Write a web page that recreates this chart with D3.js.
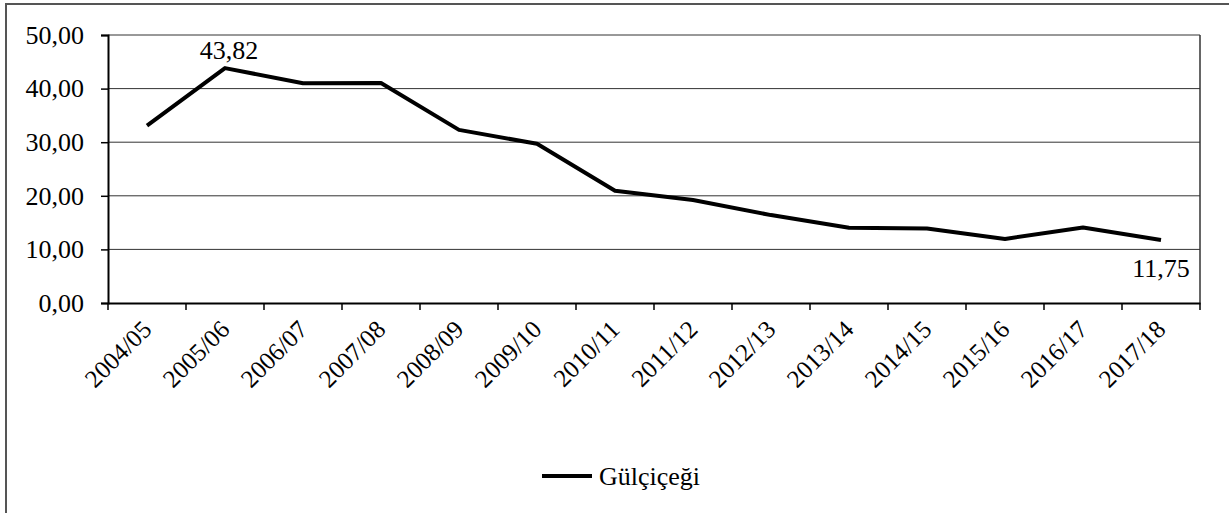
<!DOCTYPE html>
<html>
<head>
<meta charset="utf-8">
<script src="https://cdn.jsdelivr.net/npm/d3@7"></script>
<style>
  body { margin: 0; background: #fff; }
  svg text { font-family: "Liberation Serif", "Times New Roman", serif; fill: #000; }
</style>
</head>
<body>
<div id="chart"></div>
<script>
// data
var seasons = ["2004/05", "2005/06", "2006/07", "2007/08", "2008/09", "2009/10", "2010/11",
               "2011/12", "2012/13", "2013/14", "2014/15", "2015/16", "2016/17", "2017/18"];
var gulcicegi = [33.1, 43.82, 41.0, 41.05, 32.3, 29.7, 20.95, 19.2, 16.4, 14.05, 13.9, 11.95, 14.1, 11.75];
var yTicks = [0, 10, 20, 30, 40, 50];
var seriesName = "Gülçiçeği";

// chart properties
var W = 1229, H = 513;
var margin = { top: 35, right: 29, bottom: 210, left: 108 },
    width = W - margin.left - margin.right,
    height = H - margin.top - margin.bottom;

var serif = "'Liberation Serif', 'Times New Roman', serif";
var fmt = function (v) { return d3.format(".2f")(v).replace(".", ","); };

var svg = d3.select("#chart").append("svg")
            .attr("width", W)
            .attr("height", H)
            .attr("font-family", serif);

// outer frame
svg.append("rect")
   .attr("x", 6).attr("y", 4)
   .attr("width", W + 10).attr("height", H + 10)
   .attr("fill", "none")
   .attr("stroke", "#555")
   .attr("stroke-width", 2);

var chart = svg.append("g")
               .attr("transform", "translate(" + margin.left + "," + margin.top + ")");

var xScale = d3.scaleBand()
               .domain(seasons)
               .range([0, width]);

var yScale = d3.scaleLinear()
               .domain([0, 50])
               .range([height, 0]);

// gridlines
chart.append("g")
     .selectAll("line")
     .data(yTicks.filter(function (d) { return d > 0; }))
     .enter().append("line")
     .attr("x1", 0).attr("x2", width)
     .attr("y1", function (d) { return yScale(d); })
     .attr("y2", function (d) { return yScale(d); })
     .attr("stroke", "#333")
     .attr("stroke-width", 1);

// right border of plot
chart.append("line")
     .attr("x1", width).attr("x2", width)
     .attr("y1", 0).attr("y2", height)
     .attr("stroke", "#333")
     .attr("stroke-width", 1.5);

// x axis
var xAxis = chart.append("g")
                 .attr("transform", "translate(0," + height + ")")
                 .call(d3.axisBottom(xScale).tickSize(0).tickFormat(""));
xAxis.select(".domain").attr("stroke", "#000").attr("stroke-width", 2);

// x ticks at band boundaries
var bounds = seasons.map(function (d) { return xScale(d); }).concat([width]);
chart.append("g")
     .selectAll("line")
     .data(bounds)
     .enter().append("line")
     .attr("x1", function (d) { return d; })
     .attr("x2", function (d) { return d; })
     .attr("y1", height).attr("y2", height + 7)
     .attr("stroke", "#000")
     .attr("stroke-width", 1.5);

// x labels
chart.append("g")
     .selectAll("text")
     .data(seasons)
     .enter().append("text")
     .attr("transform", function (d) {
         return "translate(" + (xScale(d) + xScale.bandwidth() / 2 + 6) + "," + (height + 28) + ") rotate(-45)";
     })
     .attr("text-anchor", "end")
     .style("font-family", serif)
     .style("font-size", "25px")
     .text(function (d) { return d; });

// y axis
var yAxis = chart.append("g")
                 .call(d3.axisLeft(yScale).tickValues(yTicks).tickSize(7).tickPadding(17).tickFormat(fmt));
yAxis.attr("font-family", serif);
yAxis.select(".domain").attr("stroke", "#000").attr("stroke-width", 2);
yAxis.selectAll(".tick line").attr("stroke", "#000").attr("stroke-width", 1.5);
yAxis.selectAll(".tick text")
     .style("font-family", serif)
     .style("font-size", "26px")
     .attr("fill", "#000");

// add line
var lineGen = d3.line()
                .x(function (d, i) { return xScale(seasons[i]) + xScale.bandwidth() / 2; })
                .y(function (d) { return yScale(d); });

chart.append("path")
     .attr("d", lineGen(gulcicegi))
     .attr("stroke", "#000")
     .attr("stroke-width", 4)
     .attr("stroke-linejoin", "round")
     .attr("fill", "none");

// data labels for max and last
var maxIdx = gulcicegi.indexOf(d3.max(gulcicegi));
var lastIdx = gulcicegi.length - 1;
chart.append("text")
     .attr("x", xScale(seasons[maxIdx]) + xScale.bandwidth() / 2 + 4)
     .attr("y", yScale(gulcicegi[maxIdx]) - 9)
     .attr("text-anchor", "middle")
     .style("font-family", serif)
     .style("font-size", "26px")
     .text(fmt(gulcicegi[maxIdx]));
chart.append("text")
     .attr("x", xScale(seasons[lastIdx]) + xScale.bandwidth() / 2)
     .attr("y", yScale(gulcicegi[lastIdx]) + 37)
     .attr("text-anchor", "middle")
     .style("font-family", serif)
     .style("font-size", "26px")
     .text(fmt(gulcicegi[lastIdx]));

// legend
var legend = svg.append("g").attr("transform", "translate(542,476)");
legend.append("line")
      .attr("x1", 0).attr("x2", 50)
      .attr("y1", 0).attr("y2", 0)
      .attr("stroke", "#000")
      .attr("stroke-width", 4);
legend.append("text")
      .attr("x", 57).attr("y", 9)
      .style("font-family", serif)
      .style("font-size", "26px")
      .text(seriesName);
</script>
</body>
</html>
